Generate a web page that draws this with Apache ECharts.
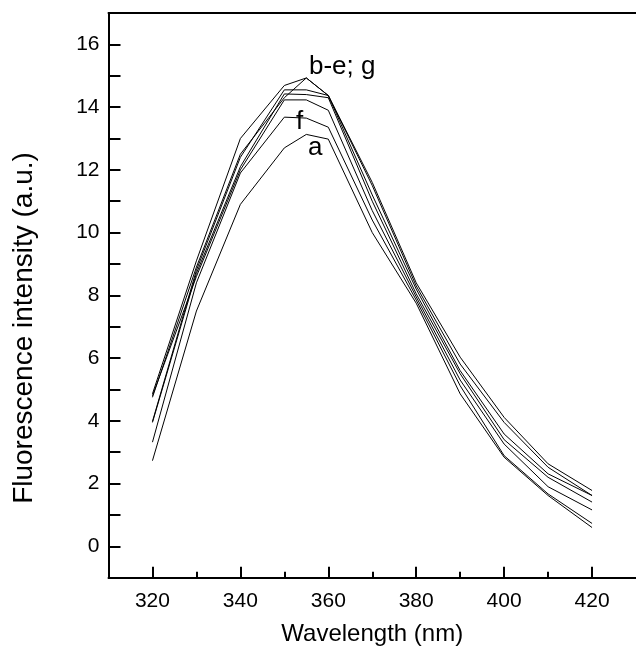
<!DOCTYPE html>
<html>
<head>
<meta charset="utf-8">
<script src="https://cdn.jsdelivr.net/npm/echarts@6/dist/echarts.min.js"></script>
<style>
html,body{margin:0;padding:0;background:#fff;}
#chart{width:636px;height:656px;}
</style>
</head>
<body>
<div id="chart"></div>
<script>
// Wavelengths (nm)
const wavelengths = [320, 330, 340, 350, 355, 360, 370, 380, 390, 400, 410, 420];
// Fluorescence intensity series (a.u.)
const seriesB = [4.86, 9.1, 13.0, 14.69, 14.93, 14.37, 11.5, 8.3, 5.81, 3.95, 2.52, 1.62];
const seriesC = [4.75, 8.9, 12.5, 14.30, 14.93, 14.37, 11.6, 8.4, 6.03, 4.11, 2.63, 1.78];
const seriesD = [3.98, 8.8, 12.4, 14.55, 14.55, 14.37, 11.2, 8.2, 5.60, 3.58, 2.31, 1.62];
const seriesE = [3.95, 8.7, 12.1, 14.42, 14.40, 14.30, 11.0, 8.05, 5.50, 3.40, 2.20, 1.41];
const seriesG = [4.80, 8.6, 12.0, 14.23, 14.23, 13.90, 10.7, 7.95, 5.30, 3.26, 1.90, 1.16];
const seriesF = [3.32, 8.4, 11.9, 13.68, 13.65, 13.36, 10.4, 7.85, 5.12, 2.89, 1.67, 0.73];
const seriesA = [2.73, 7.5, 10.9, 12.70, 13.13, 12.98, 10.0, 7.75, 4.86, 2.84, 1.62, 0.60];
// Tick labels
const xTickLabels = [320, 340, 360, 380, 400, 420];
const xMinorTicks = [330, 350, 370, 390, 410];
const yTickLabels = [0, 2, 4, 6, 8, 10, 12, 14, 16];

const allSeries = [seriesA, seriesB, seriesC, seriesD, seriesE, seriesF, seriesG];
const FONT = 'Liberation Sans, Arial, sans-serif';

const chart = echarts.init(document.getElementById('chart'), null, {renderer: 'canvas'});
const grid = {left: 108.5, top: 13, right: -8.1, bottom: 78.3, containLabel: false};

chart.setOption({
  animation: false,
  backgroundColor: '#fff',
  grid: grid,
  xAxis: [
    {
      type: 'value', min: 310, max: 430, position: 'bottom',
      name: 'Wavelength (nm)', nameLocation: 'middle', nameGap: 45,
      nameTextStyle: {fontFamily: FONT, fontSize: 24, color: '#000'},
      axisLine: {show: true, onZero: false, lineStyle: {color: '#000', width: 2}},
      axisTick: {show: true, inside: true, length: 11, customValues: xTickLabels, lineStyle: {color: '#000', width: 2}},
      axisLabel: {show: true, customValues: xTickLabels, margin: 13, fontFamily: FONT, fontSize: 21, color: '#000'},
      splitLine: {show: false}
    },
    {
      type: 'value', min: 310, max: 430, position: 'bottom',
      axisLine: {show: false, onZero: false},
      axisTick: {show: true, inside: true, length: 6, customValues: xMinorTicks, lineStyle: {color: '#000', width: 2}},
      axisLabel: {show: false},
      splitLine: {show: false}
    },
    {
      type: 'value', min: 310, max: 430, position: 'top',
      axisLine: {show: true, onZero: false, lineStyle: {color: '#000', width: 2}},
      axisTick: {show: false}, axisLabel: {show: false}, splitLine: {show: false}
    }
  ],
  yAxis: [
    {
      type: 'value', min: -1, max: 17, interval: 1, position: 'left',
      axisLine: {show: true, onZero: false, lineStyle: {color: '#000', width: 2}},
      axisTick: {show: true, inside: true, length: 12, lineStyle: {color: '#000', width: 2}},
      axisLabel: {show: true, customValues: yTickLabels, margin: 9, fontFamily: FONT, fontSize: 21, color: '#000'},
      splitLine: {show: false}
    }
  ],
  series: allSeries.map(function (vals) {
    return {
      type: 'line',
      data: wavelengths.map(function (w, i) { return [w, vals[i]]; }),
      symbol: 'none',
      lineStyle: {color: '#000', width: 1},
      silent: true
    };
  }),
  graphic: [
    {type: 'text', x: 24, y: 328, rotation: Math.PI / 2,
     style: {text: 'Fluorescence intensity (a.u.)', font: '28px ' + FONT, fill: '#000', align: 'center', verticalAlign: 'middle'}},
    {type: 'text', left: 309, top: 54, style: {text: 'b-e; g', font: '26px ' + FONT, fill: '#000'}},
    {type: 'text', left: 296, top: 109, style: {text: 'f', font: '26px ' + FONT, fill: '#000'}},
    {type: 'text', left: 308, top: 135, style: {text: 'a', font: '26px ' + FONT, fill: '#000'}}
  ]
});
</script>
</body>
</html>
